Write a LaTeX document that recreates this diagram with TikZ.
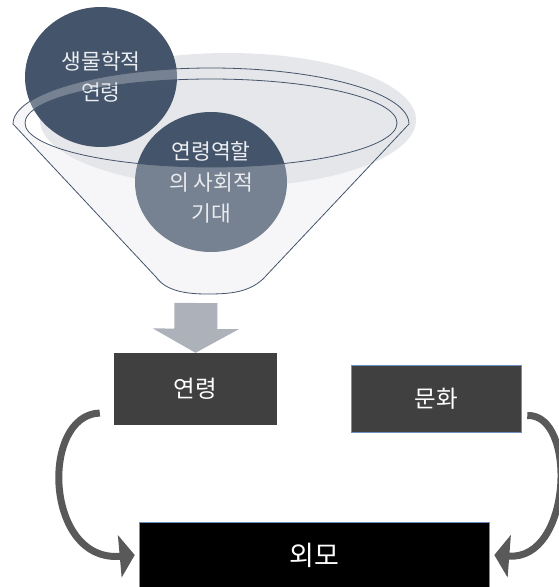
\documentclass[tikz,border=0pt]{standalone}
\usepackage{fontspec}
\newfontfamily\kr{Noto Sans CJK KR}
\usetikzlibrary{shapes.geometric,arrows.meta}
\definecolor{slate}{HTML}{44546A}
\definecolor{rimgray}{HTML}{E6E7EA}
\definecolor{conegray}{HTML}{E2E4E8}
\definecolor{boxgray}{HTML}{404040}
\definecolor{arrowgray}{HTML}{595959}
\definecolor{pipegray}{HTML}{ADB1B9}
\definecolor{edgeblue}{HTML}{6A8FC0}
\definecolor{bubbletext}{HTML}{ECEEF2}

\begin{document}
\begin{tikzpicture}[x=1pt,y=-1pt,
  bubble/.style={ellipse, fill=slate, text=bubbletext, inner sep=0pt,
    minimum width=152pt, minimum height=140pt, align=center,
    font=\kr\fontsize{21.5}{31}\selectfont},
  block/.style={rectangle, fill=boxgray, text=white, inner sep=0pt,
    font=\kr\fontsize{23.5}{23.5}\selectfont},
  curvearrow/.style={draw=arrowgray, line width=7pt, -{Triangle[width=42pt,length=15pt]}}]
\useasboundingbox (0,0) rectangle (558,587);
	% back of the funnel
	\fill[rimgray] (228,120) ellipse [x radius=188, y radius=67];
	\node[bubble] (bio) at (101,77) {생물학적\\연령};
	\node[bubble] (role) at (211,182) {연령역할\\의 사회적\\기대};
	% funnel front, see-through
	\draw[slate, line width=0.8pt, fill=conegray, fill opacity=0.32, even odd rule]
		(13,124) arc[start angle=180, end angle=360, x radius=198, y radius=56]
		-- (263,279) .. controls (248,293) and (228,294) .. (207,294)
		.. controls (186,294) and (166,291) .. (156,277) -- cycle
		(211,123) ellipse [x radius=186, y radius=44];
	\coordinate (spout) at (196,303);
	\node[block, minimum width=163pt, minimum height=72pt] (age) at (195.5,389) {연령};
	\node[block, draw=edgeblue, line width=0.6pt, minimum width=170pt, minimum height=67pt]
		(culture) at (436,398.5) {문화};
	\node[block, fill=black, draw=edgeblue, line width=0.6pt, minimum width=350pt,
		minimum height=66pt, font=\kr\fontsize{27}{27}\selectfont] (looks) at (314,555) {외모};
	\draw[pipegray, line width=43pt, -{Triangle[width=85pt,length=24pt]}] (spout) -- (age.north);
	\draw[curvearrow] ([shift={(-14,24)}]age.west) .. controls +(-60,2) and +(-90,8) .. ([xshift=-4pt]looks.west);
	\draw[curvearrow] ([shift={(6,17)}]culture.east) .. controls +(50,-2) and +(78,6) .. ([xshift=5pt]looks.east);
\end{tikzpicture}
\end{document}
